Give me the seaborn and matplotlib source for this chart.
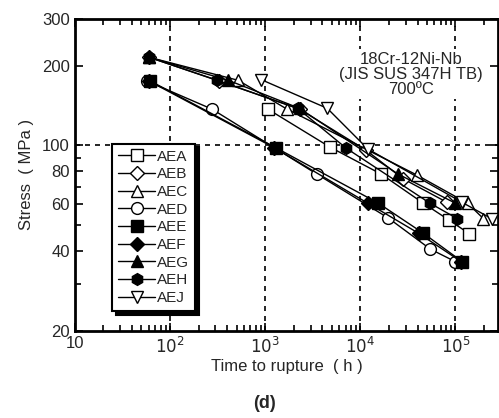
import numpy as np
import pandas as pd
import seaborn as sns
import matplotlib.pyplot as plt
from matplotlib.ticker import FixedLocator, NullFormatter, FixedFormatter

# creep rupture data, 18Cr-12Ni-Nb at 700 C
aea_t = [1070, 4800, 16600, 46000, 86000, 140000]
aea_s = [137, 98.6, 78, 60.6, 52.3, 46.5]
aeb_t = [60, 330, 2300, 11500, 28000, 82000]
aeb_s = [215, 175, 137, 96, 75, 61]
aec_t = [60, 520, 1700, 39000, 134000, 197000]
aec_s = [215, 176, 137, 77.5, 60.6, 53]
aed_t = [57, 277, 3500, 19700, 54500, 100000]
aed_s = [175, 137, 78, 53.3, 40.7, 36.5]
aee_t = [62, 1300, 15500, 46000, 118000]
aee_s = [175, 98, 60.6, 46.7, 36.5]
aef_t = [60, 1250, 12000, 41000, 115000]
aef_s = [175, 98, 60.6, 46.7, 36.5]
aeg_t = [60, 410, 2300, 25000, 100000]
aeg_s = [215, 176, 138, 78, 60.6]
aeh_t = [60, 310, 2200, 7100, 54000, 105000]
aeh_s = [215, 176, 138, 97.7, 60.6, 53]
aej_t = [910, 4500, 12000, 118000, 240000]
aej_s = [177, 138, 97, 61, 53]

series = ["AEA", "AEB", "AEC", "AED", "AEE", "AEF", "AEG", "AEH", "AEJ"]
times = [aea_t, aeb_t, aec_t, aed_t, aee_t, aef_t, aeg_t, aeh_t, aej_t]
stresses = [aea_s, aeb_s, aec_s, aed_s, aee_s, aef_s, aeg_s, aeh_s, aej_s]
markers = ["s", "D", "^", "o", "s", "D", "^", "h", "v"]
filled = [False, False, False, False, True, True, True, True, False]

df = pd.concat([pd.DataFrame({"time": t, "stress": s, "steel": n})
                for n, t, s in zip(series, times, stresses)])

sns.set_style("ticks")
plt.rcParams['font.family'] = ['Liberation Sans', 'DejaVu Sans']

fig = plt.figure(figsize=(4.99, 4.18), dpi=100)
ax = fig.add_axes([0.150, 0.208, 0.848, 0.747])

for name, m, f in zip(series, markers, filled):
    sub = df[df["steel"] == name]
    sns.lineplot(data=sub, x="time", y="stress", ax=ax, sort=False,
                 color="black", linewidth=1.0, marker=m,
                 markersize=8.5 if m != "D" else 7.5,
                 markerfacecolor="black" if f else "white",
                 markeredgecolor="black", markeredgewidth=1.0,
                 label=name, zorder=3)

ax.set_xscale("log")
ax.set_yscale("log")
ax.set_xlim(10, 2.8e5)
ax.set_ylim(20, 300)

# dashed reference lines
for xv in [1e2, 1e3, 1e4, 1e5]:
    ax.axvline(xv, color="black", linestyle=(0, (3, 3)), linewidth=1.2, zorder=1)
ax.axhline(100, color="black", linestyle=(0, (3, 3)), linewidth=1.2, zorder=1)

ax.xaxis.set_major_locator(FixedLocator([10, 1e2, 1e3, 1e4, 1e5]))
ax.xaxis.set_major_formatter(FixedFormatter(["10", "$10^2$", "$10^3$", "$10^4$", "$10^5$"]))
minors = [k * 10 ** e for e in range(1, 6) for k in range(2, 10)]
ax.xaxis.set_minor_locator(FixedLocator(minors))
ax.xaxis.set_minor_formatter(NullFormatter())

yt = [20, 40, 60, 80, 100, 200, 300]
ax.yaxis.set_major_locator(FixedLocator(yt))
ax.yaxis.set_major_formatter(FixedFormatter([str(v) for v in yt]))
ax.yaxis.set_minor_locator(FixedLocator([30, 50, 70, 90]))
ax.yaxis.set_minor_formatter(NullFormatter())

ax.tick_params(which="both", direction="in", top=True, right=True,
               labelsize=12, width=1.2, color="black")
ax.tick_params(which="major", length=6)
ax.tick_params(which="minor", length=4)
for sp in ax.spines.values():
    sp.set_linewidth(2)
    sp.set_color("black")

ax.set_xlabel("Time to rupture  ( h )", fontsize=12, labelpad=2)
ax.set_ylabel("Stress  ( MPa )", fontsize=12, labelpad=6)

ax.text(0.795, 0.895, "18Cr-12Ni-Nb\n(JIS SUS 347H TB)\n700ºC",
        transform=ax.transAxes, ha="center", va="top", fontsize=12,
        linespacing=1.0, zorder=4,
        bbox=dict(facecolor="white", edgecolor="none", pad=2))

leg = ax.legend(loc="upper left", bbox_to_anchor=(0.088, 0.6), fontsize=11,
                frameon=True, fancybox=False,
                shadow={"color": "black", "alpha": 1, "ox": 2.5, "oy": -2.5},
                handlelength=2.4, handletextpad=0.15, labelspacing=0.24,
                borderpad=0.4, borderaxespad=0)
leg.get_frame().set_edgecolor("black")
leg.get_frame().set_linewidth(1.5)
leg.get_frame().set_alpha(1)
leg.set_zorder(5)

fig.text(0.53, 0.035, "(d)", ha="center", va="center", fontsize=13,
         fontweight="bold")

fig.savefig("out.png", dpi=100)
